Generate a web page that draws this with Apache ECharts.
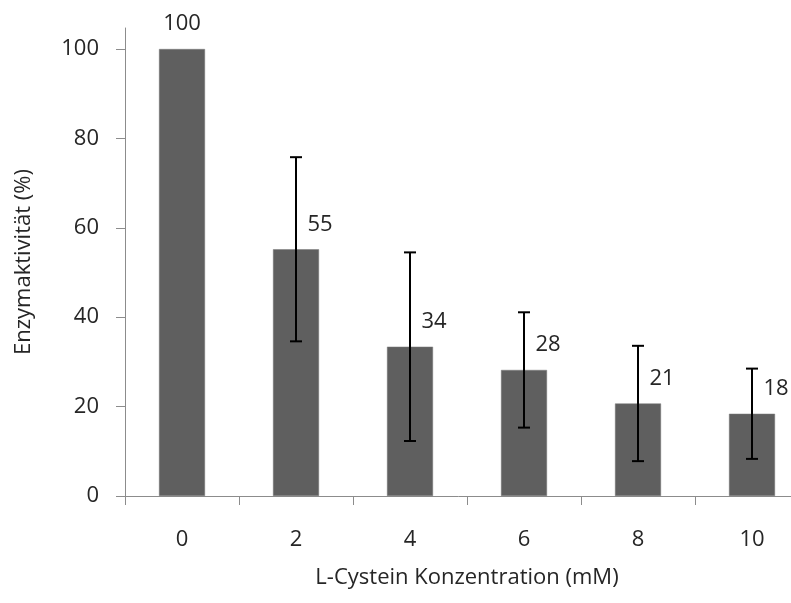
<!DOCTYPE html>
<html>
<head>
<meta charset="utf-8">
<script src="https://cdn.jsdelivr.net/npm/echarts@6/dist/echarts.min.js"></script>
<style>
  html, body { margin: 0; padding: 0; background: #fff; }
  #chart { width: 791px; height: 603px; }
</style>
</head>
<body>
<div id="chart"></div>
<script>
  // Konzentrationen (mM)
  const categories = ['0', '2', '4', '6', '8', '10']
  // Enzymaktivität (%)
  const activity = [100, 55.2, 33.4, 28.2, 20.7, 18.4]
  const errors = [0, 20.6, 21.1, 12.9, 12.9, 10.1]
  const labels = ['100', '55', '34', '28', '21', '18']
  const yTicks = [0, 20, 40, 60, 80, 100]

  const font = 'Open Sans'
  const fs = 22
  const textColor = '#262626'
  const axisColor = '#8c8c8c'

  const chart = echarts.init(document.getElementById('chart'))

  const barData = activity.map((v, i) => ({
    value: v,
    label: {
      formatter: labels[i],
      offset: i === 0 ? [0, 0] : [24, 0],
    },
  }))

  const errData = activity
    .map((v, i) => [i, v - errors[i], v + errors[i]])
    .filter((d, i) => errors[i] > 0)

  const option = {
    animation: false,
    // the plot runs past the right edge of the picture
    grid: { left: 125, width: 684, top: 28, bottom: 107, outerBoundsMode: 'none' },
    xAxis: {
      type: 'category',
      data: categories,
      name: 'L-Cystein Konzentration (mM)',
      nameLocation: 'middle',
      nameGap: 71,
      nameTextStyle: { color: textColor, fontFamily: font, fontSize: fs },
      axisLine: { lineStyle: { color: axisColor, width: 1 } },
      axisTick: { show: true, length: 9, lineStyle: { color: axisColor } },
      axisLabel: { color: textColor, fontFamily: font, fontSize: fs, margin: 33 },
    },
    yAxis: {
      type: 'value',
      min: 0,
      max: 104.7,
      name: 'Enzymaktivität (%)',
      nameLocation: 'middle',
      nameGap: 90,
      nameTextStyle: { color: textColor, fontFamily: font, fontSize: fs },
      axisLine: { show: true, lineStyle: { color: axisColor, width: 1 } },
      axisTick: { show: true, length: 9, customValues: yTicks, lineStyle: { color: axisColor } },
      axisLabel: { color: textColor, fontFamily: font, fontSize: fs, margin: 26, customValues: yTicks },
      splitLine: { show: false },
    },
    series: [
      {
        type: 'bar',
        barWidth: 46,
        itemStyle: { color: '#5f5f5f', borderColor: '#7a7a7a', borderWidth: 0.5 },
        label: {
          show: true,
          position: 'top',
          distance: 14,
          color: textColor,
          fontFamily: font,
          fontSize: fs,
        },
        data: barData,
        z: 2,
      },
      {
        type: 'custom',
        data: errData,
        z: 3,
        renderItem: function (params, api) {
          const x = api.value(0)
          const lo = api.coord([x, api.value(1)])
          const hi = api.coord([x, api.value(2)])
          const cap = 6
          const style = { stroke: '#000', lineWidth: 2 }
          return {
            type: 'group',
            children: [
              { type: 'line', shape: { x1: lo[0], y1: lo[1], x2: hi[0], y2: hi[1] }, style: style },
              { type: 'line', shape: { x1: hi[0] - cap, y1: hi[1], x2: hi[0] + cap, y2: hi[1] }, style: style },
              { type: 'line', shape: { x1: lo[0] - cap, y1: lo[1], x2: lo[0] + cap, y2: lo[1] }, style: style },
            ],
          }
        },
      },
    ],
  }
  chart.setOption(option)
</script>
</body>
</html>
